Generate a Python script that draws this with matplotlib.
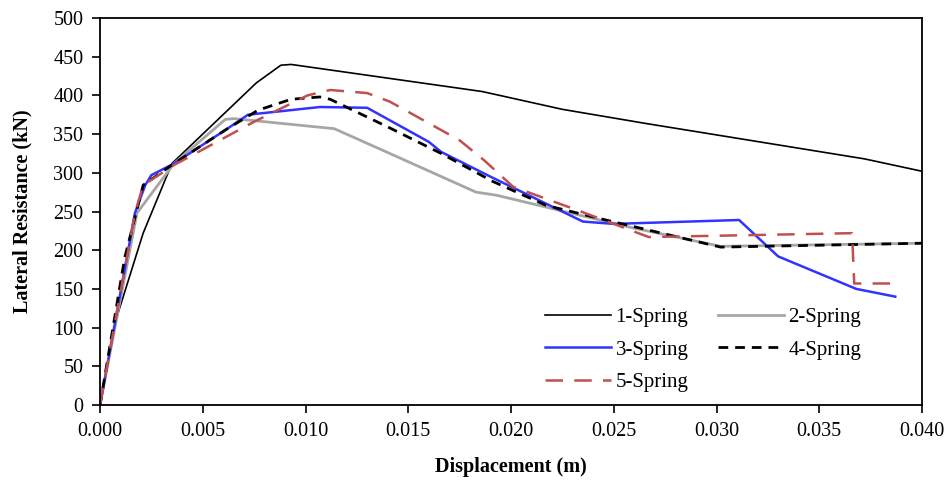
import matplotlib
matplotlib.use("Agg")
import matplotlib.pyplot as plt

plt.rcParams['font.family'] = ['Liberation Serif', 'DejaVu Serif']

s1_x = [0, 0.0008, 0.0021, 0.0035, 0.0076, 0.0088, 0.0093, 0.0186, 0.0225, 0.0265, 0.0372, 0.040]
s1_y = [0, 112, 222, 312, 416, 439, 440, 405, 382, 364, 318, 302]

s2_x = [0, 0.0018, 0.0036, 0.0061, 0.0065, 0.0114, 0.0141, 0.0183, 0.0193, 0.0259, 0.0302, 0.040]
s2_y = [0, 248, 312, 369, 370, 357, 325, 275, 271, 229, 205, 209]

s3_x = [0, 0.0017, 0.0022, 0.0025, 0.0036, 0.0062, 0.0072, 0.0107, 0.0130, 0.0160, 0.0166,
        0.0190, 0.0235, 0.0250, 0.0311, 0.0330, 0.0368, 0.0387]
s3_y = [0, 248, 284, 297, 312, 357, 375, 385, 384, 340, 327, 295, 237, 234, 239, 192, 150, 140]

s4_x = [0, 0.0012, 0.0021, 0.0036, 0.0062, 0.0077, 0.0093, 0.0107, 0.0112, 0.0141, 0.0166,
        0.0191, 0.0217, 0.0243, 0.0302, 0.040]
s4_y = [0, 190, 284, 312, 357, 381, 395, 398, 395, 358, 325, 289, 258, 241, 204, 209]

s5_x = [0, 0.0017, 0.0021, 0.0036, 0.0075, 0.0101, 0.0112, 0.0130, 0.0141, 0.0175, 0.0187,
        0.0201, 0.0234, 0.0267, 0.0366, 0.0367, 0.0386]
s5_y = [0, 248, 284, 310, 366, 400, 407, 403, 392, 342, 316, 282, 250, 217, 222, 157, 157]

labels = ['1-Spring', '2-Spring', '3-Spring', '4-Spring', '5-Spring']
x_ticks = [0.000, 0.005, 0.010, 0.015, 0.020, 0.025, 0.030, 0.035, 0.040]
y_ticks = list(range(0, 501, 50))

fig = plt.figure(figsize=(9.5, 4.83), dpi=100)
ax = fig.add_axes([100/950, 1 - 405/483, 822/950, 387/483])

h1, = ax.plot(s1_x, s1_y, color='black', lw=1.2, label=labels[0])
h2, = ax.plot(s2_x, s2_y, color='#A6A6A6', lw=2.0, label=labels[1])
h3, = ax.plot(s3_x, s3_y, color='#3333FF', lw=1.8, label=labels[2])
h4, = ax.plot(s4_x, s4_y, color='black', lw=2.0, dashes=(3.5, 2.5), label=labels[3])
h5, = ax.plot(s5_x, s5_y, color='#C0504D', lw=1.8, dashes=(7, 4.5), label=labels[4])

ax.set_xlim(0, 0.040)
ax.set_ylim(0, 500)
ax.set_xticks(x_ticks)
ax.set_xticklabels([f"{v:.3f}" for v in x_ticks])
ax.set_yticks(y_ticks)
ax.tick_params(direction='out', length=6, width=1.2, labelsize=14.5, pad=6,
               top=False, right=False)
for sp in ax.spines.values():
    sp.set_linewidth(1.3)

ax.set_xlabel('Displacement (m)', fontsize=14.5, fontweight='bold', labelpad=12)
ax.set_ylabel('Lateral Resistance (kN)', fontsize=14.5, fontweight='bold', labelpad=15)

handles = [h1, h3, h5, h2, h4]
leg = ax.legend(handles, [h.get_label() for h in handles],
                loc='upper left', bbox_to_anchor=(0.541, 0.252), ncol=2, frameon=False,
                fontsize=15, handlelength=3.2, handletextpad=0.2, columnspacing=1.4,
                labelspacing=0.62, borderaxespad=0, borderpad=0)

fig.savefig('out.png', dpi=100)
